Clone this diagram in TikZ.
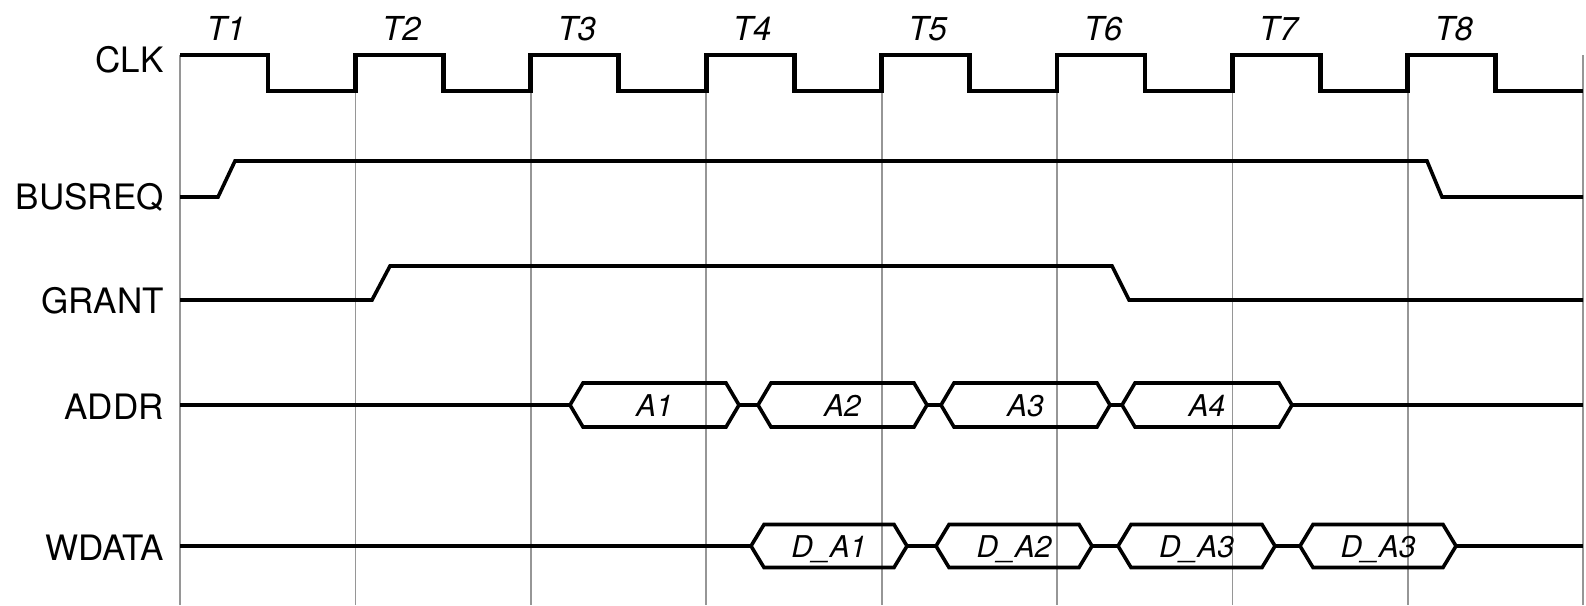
\documentclass[tikz,border=0pt]{standalone}
\usepackage{fontspec}
\setmainfont{TeX Gyre Heros}
\definecolor{gridgray}{RGB}{150,150,150}
\tikzset{
  grid line/.style={gridgray, line width=1.8pt},
  clk line/.style={line width=4.8pt},
  sig line/.style={line width=3.6pt},
  bus line/.style={line width=3.6pt},
  sig label/.style={anchor=base east, font=\fontsize{35}{40}\selectfont, inner sep=0pt},
  t label/.style={anchor=base, font=\fontsize{33}{38}\selectfont\itshape, inner sep=0pt},
  bus label/.style={anchor=base, font=\fontsize{30}{36}\selectfont\itshape, inner sep=0pt},
}
\newcommand\busseg[6]{%
  \draw[bus line] (#1,#3) -- ({#1+13},{#3-#4}) -- ({#2-13},{#3-#4}) -- (#2,#3)
     -- ({#2-13},{#3+#4}) -- ({#1+13},{#3+#4}) -- cycle;
  \node[bus label] (#6) at ({(#1+#2)/2},{#3+11.5}) {#5};
}
\begin{document}
\begin{tikzpicture}[x=1pt,y=-1pt]
\useasboundingbox (0,0) rectangle (1586,605);
% grid lines and period labels
\foreach \i/\t in {0/T1,1/T2,2/T3,3/T4,4/T5,5/T6,6/T7,7/T8}{
  \draw[grid line] ({180+175.4*\i},55) -- ({180+175.4*\i},605);
  \node[t label] (lab\t) at ({226+175.4*\i},40) {\t};
}
\draw[grid line] (1583.2,55) -- (1583.2,605);
% signal names
\node[sig label] (nclk) at (164,72) {CLK};
\node[sig label] (nbusreq) at (164,209.5) {BUSREQ};
\node[sig label] (ngrant) at (164,313.5) {GRANT};
\node[sig label] (naddr) at (164,419.5) {ADDR};
\node[sig label] (nwdata) at (164,560.5) {WDATA};
% clock
\draw[clk line] (180,55) -- (268,55) -- (268,91) -- (355.4,91)
  -- (355.4,55) -- (443.4,55) -- (443.4,91) -- (530.8,91)
  -- (530.8,55) -- (618.8,55) -- (618.8,91) -- (706.2,91)
  -- (706.2,55) -- (794.2,55) -- (794.2,91) -- (881.6,91)
  -- (881.6,55) -- (969.6,55) -- (969.6,91) -- (1057,91)
  -- (1057,55) -- (1145,55) -- (1145,91) -- (1232.4,91)
  -- (1232.4,55) -- (1320.4,55) -- (1320.4,91) -- (1407.8,91)
  -- (1407.8,55) -- (1495.8,55) -- (1495.8,91) -- (1583.2,91);
% BUSREQ
\draw[sig line] (180,197) -- (218,197) -- (235,161) -- (1427,161) -- (1442,197) -- (1583,197);
% GRANT
\draw[sig line] (180,300) -- (372,300) -- (390,266) -- (1112,266) -- (1129,300) -- (1583,300);
% ADDR
\draw[sig line] (180,405) -- (570,405);
\draw[sig line] (739,405) -- (758,405);
\draw[sig line] (927,405) -- (941,405);
\draw[sig line] (1110,405) -- (1122,405);
\draw[sig line] (1292,405) -- (1583,405);
\busseg{570}{739}{405}{22}{A1}{a1}
\busseg{758}{927}{405}{22}{A2}{a2}
\busseg{941}{1110}{405}{22}{A3}{a3}
\busseg{1122}{1292}{405}{22}{A4}{a4}
% WDATA
\draw[sig line] (180,546) -- (751,546);
\draw[sig line] (907,546) -- (936,546);
\draw[sig line] (1092,546) -- (1118,546);
\draw[sig line] (1275,546) -- (1300,546);
\draw[sig line] (1456,546) -- (1583,546);
\busseg{751}{907}{546}{21.5}{D\_A1}{d1}
\busseg{936}{1092}{546}{21.5}{D\_A2}{d2}
\busseg{1118}{1275}{546}{21.5}{D\_A3}{d3}
\busseg{1300}{1456}{546}{21.5}{D\_A3}{d4}
\end{tikzpicture}
\end{document}
